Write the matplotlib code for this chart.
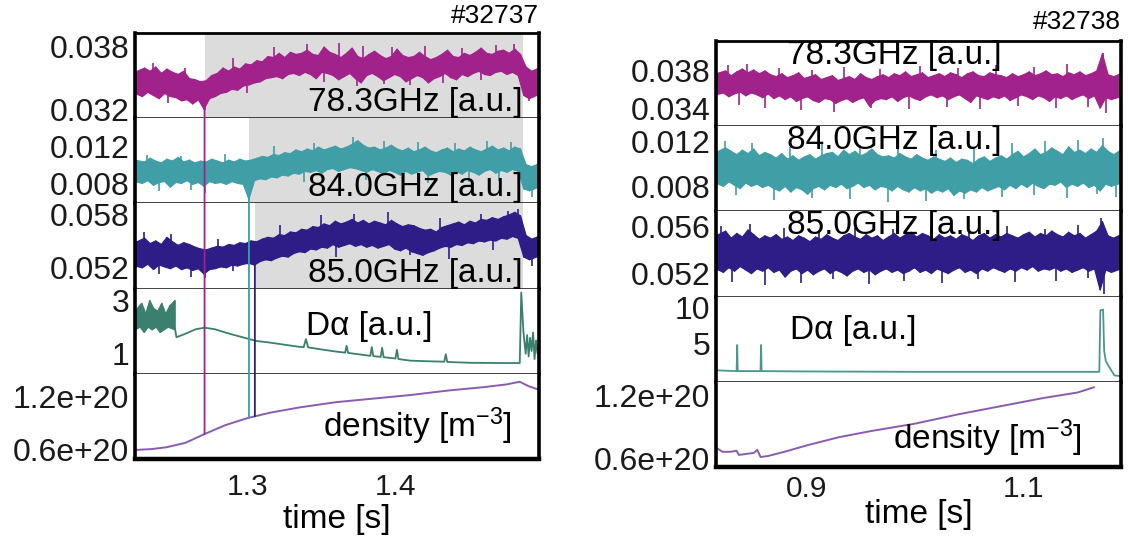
import numpy as np
import matplotlib
matplotlib.use("Agg")
import matplotlib.pyplot as plt
from matplotlib.patches import ConnectionPatch

plt.rcParams["font.family"] = ["Liberation Sans", "DejaVu Sans"]
plt.rcParams["mathtext.default"] = "regular"

# ---------------- shot #32737 (left) ----------------
L_T0, L_T1 = 1.224, 1.497          # time window [s]
# ECE channels: per-bin min / max envelope, units of 1e-3 a.u.
l783_hi = [35.5, 35.9, 35.6, 36.0, 35.4, 35.8, 35.5, 35.3, 35.6, 34.9,
           34.8, 34.6, 34.7, 35.2, 35.4, 35.9, 35.6, 36.0, 35.8, 36.3,
           36.2, 36.6, 36.5, 37.0, 36.9, 37.3, 36.9, 37.4, 37.2, 37.3,
           37.6, 37.2, 37.1, 37.9, 37.4, 37.2, 36.9, 37.3, 37.8, 37.0,
           36.8, 37.2, 37.5, 37.1, 36.8, 37.0, 37.7, 37.1, 36.9, 37.0,
           37.4, 37.0, 36.7, 36.9, 37.2, 37.6, 37.0, 36.9, 37.3, 37.1,
           37.4, 37.8, 37.3, 37.2, 37.5, 37.6, 37.3, 37.7, 37.2, 36.0, 35.6, 35.9]
l783_lo = [33.5, 33.2, 33.6, 33.3, 33.0, 33.5, 33.2, 33.1, 32.8, 32.9,
           32.5, 32.9, 32.0, 33.0, 33.2, 33.5, 33.6, 33.9, 33.8, 34.2,
           34.3, 34.5, 34.6, 34.9, 35.0, 35.1, 34.9, 35.3, 35.4, 35.2,
           35.5, 35.3, 34.9, 35.5, 35.4, 35.2, 34.8, 35.1, 35.4, 34.9,
           34.5, 35.2, 35.4, 35.1, 34.7, 35.0, 35.3, 35.1, 34.6, 34.9,
           35.2, 35.0, 34.5, 34.9, 35.1, 35.4, 35.0, 34.8, 35.3, 35.1,
           35.4, 35.6, 35.3, 35.2, 35.5, 35.6, 35.3, 35.5, 35.2, 33.3, 33.0, 33.4]
l783_spk_t = [1.236, 1.258, 1.290, 1.318, 1.340, 1.362, 1.378, 1.398, 1.420, 1.445,
              1.468, 1.480, 1.246, 1.271, 1.300, 1.352, 1.374, 1.392, 1.410, 1.432,
              1.458, 1.490]
l783_spk_v = [36.4, 35.9, 36.9, 37.9, 38.2, 38.3, 38.0, 37.9, 38.0, 37.8,
              38.1, 38.2, 32.6, 31.9, 33.5, 34.6, 34.2, 34.4, 34.3, 34.5,
              34.8, 32.8]
l840_hi = [10.5, 10.3, 10.7, 10.4, 10.2, 10.6, 10.4, 10.8, 10.3, 10.5,
           10.2, 10.4, 10.3, 10.6, 10.4, 10.2, 10.5, 10.3, 10.6, 10.4,
           10.5, 10.7, 10.9, 10.8, 11.1, 11.0, 11.3, 11.2, 11.6, 11.4,
           11.7, 11.5, 11.9, 11.6, 11.8, 12.0, 11.7, 11.9, 12.2, 12.6,
           12.1, 11.8, 11.9, 11.6, 11.8, 12.1, 11.7, 11.5, 11.8, 11.4,
           11.6, 11.9, 11.5, 11.3, 11.6, 11.8, 11.4, 11.7, 11.5, 11.9,
           11.6, 11.4, 11.7, 12.0, 11.6, 11.8, 11.5, 11.9, 11.7, 10.0, 9.8, 10.1]
l840_lo = [8.2, 8.0, 8.3, 7.8, 8.1, 8.2, 7.6, 8.1, 8.0, 8.3,
           7.9, 8.1, 7.7, 8.2, 8.0, 8.1, 7.9, 8.2, 8.0, 7.9,
           6.3, 8.3, 8.5, 8.4, 8.7, 8.6, 8.9, 8.8, 9.1, 9.0,
           9.3, 9.2, 9.4, 9.1, 9.5, 9.6, 9.3, 9.5, 9.7, 9.6,
           9.4, 9.2, 9.5, 9.3, 9.0, 9.4, 9.2, 8.9, 9.3, 9.0,
           9.2, 9.4, 8.8, 9.1, 9.3, 9.2, 8.9, 9.3, 9.0, 9.4,
           9.2, 8.9, 9.3, 9.5, 9.1, 9.4, 9.2, 9.5, 9.3, 7.4, 7.2, 7.6]
l840_spk_t = [1.232, 1.255, 1.285, 1.318, 1.345, 1.371, 1.392, 1.415, 1.440, 1.462,
              1.478, 1.240, 1.262, 1.271, 1.301, 1.338, 1.380, 1.422, 1.450, 1.470,
              1.492]
l840_spk_v = [11.1, 11.0, 11.2, 12.0, 12.4, 13.0, 12.6, 12.5, 12.4, 12.6,
              12.5, 7.2, 7.3, 7.0, 6.2, 8.2, 8.4, 8.0, 8.2, 8.3,
              6.5]
l850_hi = [54.8, 55.3, 54.7, 55.0, 54.6, 55.4, 54.9, 54.5, 54.8, 54.6,
           54.3, 54.1, 54.0, 54.2, 54.4, 54.3, 54.6, 54.5, 54.8, 54.7,
           55.0, 54.9, 55.2, 55.4, 55.3, 55.7, 55.6, 56.0, 55.9, 56.3,
           56.2, 56.6, 56.5, 56.9, 56.7, 57.2, 56.9, 57.1, 57.4, 57.0,
           57.3, 56.9, 57.2, 57.0, 56.8, 57.3, 56.9, 56.6, 56.8, 56.7,
           56.4, 56.2, 56.3, 56.0, 56.5, 56.7, 56.9, 57.1, 56.8, 57.2,
           57.0, 57.4, 57.3, 57.6, 57.4, 57.7, 57.9, 58.2, 57.8, 55.6, 55.2, 55.5]
l850_lo = [52.2, 52.0, 52.4, 51.8, 52.3, 52.1, 51.9, 52.2, 51.8, 52.0,
           51.7, 51.9, 51.3, 51.8, 51.9, 52.1, 52.0, 52.3, 52.2, 52.4,
           52.5, 52.3, 52.7, 52.9, 52.8, 53.1, 53.3, 53.2, 53.6, 53.8,
           53.7, 54.1, 54.0, 54.3, 54.2, 54.6, 54.3, 54.5, 54.7, 54.4,
           54.6, 54.3, 54.5, 54.2, 54.4, 54.6, 54.1, 53.9, 54.2, 53.8,
           53.6, 53.4, 53.7, 53.9, 54.2, 54.4, 54.3, 54.6, 54.5, 54.8,
           54.7, 55.0, 54.9, 55.1, 55.0, 55.3, 55.2, 55.5, 55.3, 53.2, 52.9, 53.3]
l850_spk_t = [1.230, 1.248, 1.280, 1.322, 1.350, 1.372, 1.395, 1.430, 1.458, 1.476,
              1.483, 1.240, 1.262, 1.271, 1.290, 1.360, 1.410, 1.436, 1.466, 1.492]
l850_spk_v = [56.0, 55.8, 55.2, 56.8, 57.9, 58.0, 58.2, 57.6, 58.0, 58.4,
              58.6, 51.3, 51.0, 50.9, 51.6, 53.2, 53.4, 53.0, 54.0, 52.2]
# D-alpha: noisy L-mode part (min/max) followed by the sampled trace
l_da_noise_t1 = 1.251
l_da_noise_hi = [2.6, 2.9, 2.5, 3.0, 2.7, 2.6, 2.9, 2.5, 2.8, 3.0]
l_da_noise_lo = [1.9, 2.0, 1.8, 2.0, 1.9, 2.0, 1.8, 1.9, 2.0, 1.9]
l_da_t = [1.251, 1.252, 1.258, 1.265, 1.271, 1.278, 1.288, 1.298, 1.306, 1.315,
          1.325, 1.335, 1.338, 1.3395, 1.341, 1.35, 1.36, 1.366, 1.367, 1.368,
          1.375, 1.383, 1.384, 1.385, 1.390, 1.391, 1.392, 1.400, 1.401, 1.402,
          1.41, 1.42, 1.433, 1.434, 1.435, 1.45, 1.47, 1.484, 1.485, 1.4865,
          1.488, 1.489, 1.490, 1.491, 1.492, 1.493, 1.494, 1.495, 1.496, 1.497]
l_da_v = [1.95, 1.62, 1.75, 1.92, 1.98, 1.92, 1.75, 1.60, 1.48, 1.42,
          1.34, 1.26, 1.25, 1.55, 1.24, 1.16, 1.08, 1.04, 1.30, 1.03,
          0.98, 0.92, 1.25, 0.91, 0.88, 1.22, 0.87, 0.82, 1.15, 0.80,
          0.74, 0.72, 0.70, 0.98, 0.69, 0.66, 0.65, 0.65, 3.3, 1.8,
          1.0, 1.7, 0.9, 1.6, 1.1, 1.8, 0.8, 1.5, 1.0, 1.4]
# line-averaged density, units of 1e20 m^-3
l_ne_t = [1.224, 1.235, 1.245, 1.258, 1.271, 1.285, 1.300, 1.315, 1.335, 1.36,
          1.385, 1.41, 1.435, 1.46, 1.475, 1.484, 1.490, 1.497]
l_ne_v = [0.60, 0.61, 0.63, 0.68, 0.78, 0.88, 0.96, 1.02, 1.08, 1.14,
          1.18, 1.22, 1.27, 1.31, 1.34, 1.37, 1.32, 1.28]
# onset times per channel and end of the shaded interval
l_onset = [1.271, 1.301, 1.305]
l_onset_val = [32.0, 6.3, 52.3]
l_shade_end = 1.486

# ---------------- shot #32738 (right) ----------------
R_T0, R_T1 = 0.817, 1.190
r783_hi = [37.6, 37.9, 37.4, 37.8, 38.1, 37.7, 38.0, 37.6, 37.9, 37.5,
           37.3, 37.6, 37.2, 37.4, 37.7, 37.1, 37.3, 37.5, 37.0, 37.2,
           37.4, 36.9, 37.1, 37.3, 37.0, 37.6, 37.2, 37.0, 37.3, 37.5,
           37.2, 37.6, 37.4, 37.8, 37.3, 37.5, 37.7, 37.2, 37.4, 37.6,
           37.3, 37.7, 37.5, 37.2, 37.6, 37.8, 37.4, 37.3, 37.7, 37.5,
           37.4, 37.2, 37.6, 37.3, 37.5, 37.8, 37.4, 37.6, 37.9, 37.5,
           37.6, 37.3, 37.7, 37.5, 37.8, 37.4, 37.6, 37.9, 39.7, 37.5, 37.3, 37.6]
r783_lo = [35.4, 35.6, 35.2, 35.5, 35.7, 35.3, 35.6, 35.4, 35.1, 35.5,
           35.0, 35.3, 34.9, 35.2, 34.7, 35.0, 35.2, 34.8, 34.6, 35.0,
           34.9, 34.5, 34.8, 35.0, 34.6, 34.9, 35.1, 34.2, 34.8, 35.0,
           34.9, 35.2, 34.7, 35.1, 35.3, 35.0, 34.8, 35.2, 35.4, 35.1,
           35.3, 34.9, 35.2, 35.4, 35.0, 34.6, 35.3, 35.1, 34.9, 35.2,
           35.0, 35.3, 34.8, 35.1, 35.4, 35.2, 34.9, 35.3, 35.1, 34.7,
           35.2, 35.0, 35.3, 34.9, 35.2, 35.4, 35.0, 35.3, 34.0, 35.1, 34.9, 35.2]
r783_spk_t = [0.828, 0.846, 0.875, 0.905, 0.935, 0.968, 1.005, 1.040, 1.075, 1.110,
              1.140, 1.173, 0.838, 0.862, 0.895, 0.926, 0.960, 0.995, 1.030, 1.060,
              1.095, 1.130, 1.160, 1.176]
r783_spk_v = [38.5, 38.6, 38.2, 38.0, 38.3, 38.1, 38.4, 38.2, 38.5, 38.3,
              38.6, 39.8, 34.3, 34.0, 33.8, 33.6, 34.0, 33.9, 34.1, 33.9,
              34.2, 34.0, 34.1, 33.5]
r840_hi = [11.0, 11.4, 11.1, 10.8, 11.2, 10.9, 11.3, 10.7, 11.0, 10.8,
           10.5, 10.9, 10.4, 10.7, 10.3, 10.6, 10.8, 10.4, 10.7, 10.9,
           11.0, 10.6, 11.2, 10.8, 11.1, 10.7, 10.9, 11.3, 10.8, 10.6,
           10.7, 10.5, 10.9, 10.6, 10.4, 10.8, 10.5, 10.3, 10.6, 10.4,
           10.2, 10.5, 10.1, 10.4, 10.3, 10.0, 10.4, 10.6, 10.2, 10.5,
           10.7, 10.4, 10.8, 11.1, 10.6, 10.9, 11.3, 10.8, 11.0, 11.4,
           11.1, 10.8, 11.5, 11.0, 11.2, 10.9, 11.3, 11.0, 11.6, 11.1, 10.8, 11.2]
r840_lo = [8.3, 8.0, 8.4, 8.1, 7.8, 8.3, 8.0, 8.2, 7.9, 8.1,
           7.8, 7.6, 8.0, 7.5, 7.9, 7.7, 7.3, 7.8, 8.0, 7.7,
           8.1, 7.9, 8.2, 7.8, 8.0, 8.3, 7.9, 8.1, 7.7, 8.0,
           7.9, 7.6, 8.0, 7.7, 7.5, 7.9, 7.6, 7.8, 7.4, 7.7,
           7.5, 7.8, 7.2, 7.6, 7.4, 7.7, 7.5, 7.9, 7.6, 7.8,
           8.0, 7.7, 8.1, 7.8, 8.2, 7.9, 8.3, 8.0, 7.8, 8.2,
           8.1, 8.4, 7.9, 8.2, 8.0, 8.3, 7.9, 8.1, 7.6, 8.2, 8.0, 8.3]
r840_spk_t = [0.825, 0.850, 0.885, 0.915, 0.950, 0.985, 1.020, 1.055, 1.090, 1.120,
              1.150, 1.173, 0.835, 0.870, 0.905, 0.940, 0.975, 1.010, 1.045, 1.080,
              1.110, 1.140, 1.168, 1.185]
r840_spk_v = [12.0, 11.8, 11.5, 11.9, 11.7, 11.3, 11.2, 11.5, 11.8, 12.0,
              12.1, 12.3, 7.2, 6.8, 7.0, 6.9, 6.6, 6.7, 6.9, 7.1,
              7.2, 7.0, 7.3, 7.1]
r850_hi = [55.2, 55.6, 55.0, 55.4, 55.1, 55.7, 55.3, 54.9, 55.2, 55.0,
           55.3, 54.9, 55.1, 54.8, 55.2, 55.0, 54.7, 55.1, 54.9, 55.3,
           55.0, 54.8, 55.2, 55.4, 55.1, 54.9, 55.3, 55.0, 55.2, 54.8,
           55.1, 55.4, 55.0, 55.3, 55.5, 55.1, 55.4, 55.2, 54.9, 55.3,
           55.0, 55.2, 54.9, 55.3, 55.1, 54.8, 55.2, 55.4, 55.0, 55.3,
           55.1, 55.4, 55.2, 55.0, 55.3, 55.5, 55.1, 55.4, 55.2, 55.6,
           55.3, 55.1, 55.5, 55.2, 55.4, 55.0, 55.3, 55.6, 56.4, 55.2, 55.0, 55.3]
r850_lo = [52.4, 52.1, 52.5, 52.2, 52.6, 52.3, 52.0, 52.4, 52.2, 52.5,
           52.1, 52.3, 51.7, 52.2, 52.4, 52.0, 52.3, 51.9, 52.2, 52.4,
           52.0, 52.3, 52.1, 51.8, 52.2, 52.4, 52.1, 52.3, 51.9, 52.2,
           52.4, 52.1, 52.3, 52.0, 52.2, 52.5, 52.1, 52.3, 52.0, 52.4,
           52.2, 52.0, 52.3, 52.5, 52.1, 52.3, 52.0, 52.4, 52.2, 52.5,
           52.3, 52.1, 52.4, 52.2, 52.5, 52.3, 52.6, 52.2, 52.4, 52.3,
           52.5, 52.2, 52.4, 52.1, 52.3, 52.5, 52.2, 52.4, 50.6, 52.3, 52.1, 52.4]
r850_spk_t = [0.822, 0.848, 0.880, 0.912, 0.945, 0.980, 1.015, 1.050, 1.085, 1.120,
              1.150, 1.172, 0.832, 0.862, 0.895, 0.925, 0.958, 0.990, 1.025, 1.058,
              1.092, 1.130, 1.160, 1.174]
r850_spk_v = [56.0, 56.2, 55.9, 55.7, 55.9, 55.8, 56.0, 55.7, 56.0, 55.8,
              56.1, 56.7, 51.3, 51.0, 51.2, 51.5, 51.1, 51.4, 51.2, 51.5,
              51.3, 51.4, 51.6, 50.3]
r_da_t = [0.817, 0.8175, 0.836, 0.8365, 0.837, 0.858, 0.8585, 0.859, 0.90, 1.0,
          1.10, 1.170, 1.171, 1.1735, 1.1745, 1.176, 1.179, 1.184, 1.190]
r_da_v = [5.4, 1.3, 1.2, 4.8, 1.2, 1.2, 4.8, 1.2, 1.15, 1.1,
          1.1, 1.1, 9.6, 9.7, 4.0, 2.6, 1.8, 0.6, 0.5]
r_ne_t = [0.817, 0.823, 0.830, 0.836, 0.838, 0.845, 0.852, 0.855, 0.858, 0.865,
          0.88, 0.90, 0.93, 0.96, 1.00, 1.04, 1.08, 1.12, 1.15, 1.165]
r_ne_v = [0.70, 0.66, 0.66, 0.67, 0.63, 0.64, 0.65, 0.68, 0.61, 0.62,
          0.66, 0.72, 0.80, 0.86, 0.93, 1.02, 1.10, 1.18, 1.23, 1.28]

C_783, C_840, C_850 = "#A0228A", "#3F9EA6", "#2E1C87"
C_DA_L, C_DA_R, C_NE = "#3B7F6E", "#4C978D", "#8A5CB0"
SHADE = "#DCDCDC"
FS_YTICK, FS_XTICK, FS_LAB = 23, 21.5, 24

W, H = 1128, 539
fig = plt.figure(figsize=(W / 100, H / 100), dpi=100)


def make_panel(x0, x1, y_top, y_bot, xpad):
    h = (y_bot - y_top) / 5
    axes = []
    for k in range(5):
        top = y_top + k * h
        ax = fig.add_axes([x0 / W, 1 - (top + h) / H, (x1 - x0) / W, h / H])
        for s in ("left", "right"):
            ax.spines[s].set_linewidth(2.6)
            ax.spines[s].set_color("black")
        ax.spines["top"].set_visible(k == 0)
        ax.spines["top"].set_linewidth(2.0)
        if k == 4:
            ax.spines["bottom"].set_linewidth(3.2)
            ax.spines["bottom"].set_color("black")
        else:
            ax.spines["bottom"].set_linewidth(1.3)
            ax.spines["bottom"].set_color("#333333")
            ax.set_xticks([])
        ax.tick_params(axis="y", length=0, labelsize=FS_YTICK, pad=4, colors="#1a1a1a")
        ax.tick_params(axis="x", length=0, labelsize=FS_XTICK, pad=xpad, colors="#1a1a1a")
        axes.append(ax)
    return axes


def band(ax, t0, t1, hi, lo, color, scale, spk_t=None, spk_v=None):
    """Noisy channel drawn from its per-bin min/max envelope plus isolated spikes."""
    hi = np.asarray(hi) * scale
    lo = np.asarray(lo) * scale
    n = len(hi)
    edges = np.linspace(t0, t1, n + 1)
    w = edges[1] - edges[0]
    xh = edges[:-1] + 0.7 * w
    xl = edges[:-1] + 0.3 * w
    xh[0], xl[0] = t0, t0
    xh[-1], xl[-1] = t1, t1
    ax.fill(np.r_[xh, xl[::-1]], np.r_[hi, lo[::-1]], facecolor=color,
            edgecolor=color, lw=0.9)
    zx = np.column_stack([xl, xh]).ravel()
    zy = np.column_stack([lo, hi]).ravel()
    ax.plot(zx, zy, color=color, lw=0.9)
    if spk_t is not None:
        mid = np.interp(spk_t, edges[:-1] + 0.5 * w, 0.5 * (hi + lo))
        ax.vlines(spk_t, mid, np.asarray(spk_v) * scale, color=color, lw=1.2)


# ---------- left panel ----------
L = make_panel(135, 539, 33, 459, xpad=10)
for ax in L:
    ax.set_xlim(L_T0, L_T1)
lims_L = [(31.14e-3, 39.24e-3), (5.84e-3, 15.03e-3), (49.67e-3, 59.2e-3),
          (0.245, 3.45), (0.498e20, 1.46e20)]
for ax, lim in zip(L, lims_L):
    ax.set_ylim(*lim)

for ax, t_on in zip(L[:3], l_onset):
    ax.axvspan(t_on, l_shade_end, color=SHADE, lw=0, zorder=0)

band(L[0], L_T0, L_T1, l783_hi, l783_lo, C_783, 1e-3, l783_spk_t, l783_spk_v)
band(L[1], L_T0, L_T1, l840_hi, l840_lo, C_840, 1e-3, l840_spk_t, l840_spk_v)
band(L[2], L_T0, L_T1, l850_hi, l850_lo, C_850, 1e-3, l850_spk_t, l850_spk_v)
band(L[3], L_T0, l_da_noise_t1, l_da_noise_hi, l_da_noise_lo, C_DA_L, 1.0)
L[3].plot(l_da_t, l_da_v, color=C_DA_L, lw=1.3)
L[4].plot(l_ne_t, np.array(l_ne_v) * 1e20, color=C_NE, lw=1.4)

L[0].set_yticks([0.032, 0.038], ["0.032", "0.038"])
L[1].set_yticks([0.008, 0.012], ["0.008", "0.012"])
L[2].set_yticks([0.052, 0.058], ["0.052", "0.058"])
L[3].set_yticks([1, 3], ["1", "3"])
L[4].set_yticks([0.6e20, 1.2e20], ["0.6e+20", "1.2e+20"])
L[4].set_xticks([1.3, 1.4], ["1.3", "1.4"])
L[4].set_xlabel("time [s]", fontsize=FS_LAB, labelpad=2)

lab_x = (523 - 135) / (539 - 135)
L[0].text(lab_x, 0.0, "78.3GHz [a.u.]", transform=L[0].transAxes,
          ha="right", va="bottom", fontsize=FS_LAB)
L[1].text(lab_x, 0.0, "84.0GHz [a.u.]", transform=L[1].transAxes,
          ha="right", va="bottom", fontsize=FS_LAB)
L[2].text(lab_x, 0.0, "85.0GHz [a.u.]", transform=L[2].transAxes,
          ha="right", va="bottom", fontsize=FS_LAB)
L[3].text(0.58, 0.55, "Dα [a.u.]", transform=L[3].transAxes,
          ha="center", va="center", fontsize=FS_LAB)
L[4].text(0.70, 0.38, "density [m$^{-3}$]", transform=L[4].transAxes,
          ha="center", va="center", fontsize=FS_LAB)

# onset markers running down to the density trace
line_cols = [C_783, C_840, C_850]
for k, (t_on, v_on, c) in enumerate(zip(l_onset, l_onset_val, line_cols)):
    ne_on = np.interp(t_on, l_ne_t, l_ne_v) * 1e20
    con = ConnectionPatch(xyA=(t_on, v_on * 1e-3), coordsA="data", axesA=L[k],
                          xyB=(t_on, ne_on), coordsB="data", axesB=L[4],
                          color=c, lw=1.3, zorder=5)
    fig.add_artist(con)

fig.text(539 / W, 1 - 16 / H, "#32737", ha="right", va="center", fontsize=19)

# ---------- right panel ----------
R = make_panel(716, 1121, 41, 467, xpad=6)
for ax in R:
    ax.set_xlim(R_T0, R_T1)
lims_R = [(32.1e-3, 41.05e-3), (5.78e-3, 13.33e-3), (50.04e-3, 57.28e-3),
          (-0.28, 11.5), (0.514e20, 1.333e20)]
for ax, lim in zip(R, lims_R):
    ax.set_ylim(*lim)

band(R[0], R_T0, R_T1, r783_hi, r783_lo, C_783, 1e-3, r783_spk_t, r783_spk_v)
band(R[1], R_T0, R_T1, r840_hi, r840_lo, C_840, 1e-3, r840_spk_t, r840_spk_v)
band(R[2], R_T0, R_T1, r850_hi, r850_lo, C_850, 1e-3, r850_spk_t, r850_spk_v)
R[3].plot(r_da_t, r_da_v, color=C_DA_R, lw=1.3)
R[4].plot(r_ne_t, np.array(r_ne_v) * 1e20, color=C_NE, lw=1.4)

R[0].set_yticks([0.034, 0.038], ["0.034", "0.038"])
R[1].set_yticks([0.008, 0.012], ["0.008", "0.012"])
R[2].set_yticks([0.052, 0.056], ["0.052", "0.056"])
R[3].set_yticks([5, 10], ["5", "10"])
R[4].set_yticks([0.6e20, 1.2e20], ["0.6e+20", "1.2e+20"])
R[4].set_xticks([0.9, 1.1], ["0.9", "1.1"])
R[4].set_xlabel("time [s]", fontsize=FS_LAB, labelpad=-3)

R[0].text(0.44, 0.83, "78.3GHz [a.u.]", transform=R[0].transAxes,
          ha="center", va="center", fontsize=FS_LAB)
R[1].text(0.44, 0.83, "84.0GHz [a.u.]", transform=R[1].transAxes,
          ha="center", va="center", fontsize=FS_LAB)
R[2].text(0.44, 0.83, "85.0GHz [a.u.]", transform=R[2].transAxes,
          ha="center", va="center", fontsize=FS_LAB)
R[3].text(0.34, 0.60, "Dα [a.u.]", transform=R[3].transAxes,
          ha="center", va="center", fontsize=FS_LAB)
R[4].text(0.67, 0.34, "density [m$^{-3}$]", transform=R[4].transAxes,
          ha="center", va="center", fontsize=FS_LAB)

fig.text(1121 / W, 1 - 22 / H, "#32738", ha="right", va="center", fontsize=19)

fig.savefig("out.png", dpi=100, facecolor="white")
